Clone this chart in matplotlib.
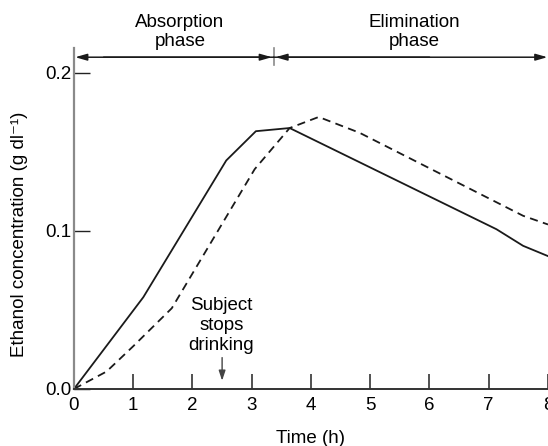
import matplotlib
matplotlib.use("Agg")
import matplotlib.pyplot as plt

plt.rcParams["font.family"] = ["Liberation Sans", "DejaVu Sans"]

# Data
t_solid = [0.0, 1.17, 2.57, 3.07, 3.64, 7.13, 7.58, 8.0]
c_solid = [0.0, 0.058, 0.1445, 0.163, 0.165, 0.101, 0.0905, 0.084]

t_dashed = [0.0, 0.55, 1.0, 1.65, 3.05, 3.64, 4.13, 4.82, 7.58, 8.0]
c_dashed = [0.0, 0.011, 0.027, 0.051, 0.139, 0.165, 0.172, 0.162, 0.1095, 0.104]

x_ticks = [0, 1, 2, 3, 4, 5, 6, 7, 8]
y_ticks = [0.0, 0.1, 0.2]
y_tick_labels = ["0.0", "0.1", "0.2"]

phase_split = 3.37
stop_time = 2.5

fs = 13.5

fig = plt.figure(figsize=(5.48, 4.46), dpi=100)
ax = fig.add_axes([0.135, 0.128, 0.865, 0.765])

ax.plot(t_solid, c_solid, color="#1a1a1a", lw=1.3, clip_on=False)
ax.plot(t_dashed, c_dashed, color="#1a1a1a", lw=1.3, dashes=(4.5, 3), clip_on=False)

ax.set_xlim(0, 8)
ax.set_ylim(0, 0.2158)
ax.spines["top"].set_visible(False)
ax.spines["right"].set_visible(False)
ax.spines["left"].set_color("#8a8a8a")
ax.spines["left"].set_linewidth(1.6)
ax.spines["bottom"].set_color("#333333")
ax.spines["bottom"].set_linewidth(1.4)

ax.set_xticks(x_ticks)
ax.set_yticks(y_ticks)
ax.set_yticklabels(y_tick_labels)
ax.tick_params(axis="x", direction="in", length=11, width=1.1, color="#222222",
               labelsize=fs, pad=6)
ax.tick_params(axis="y", direction="in", length=11.5, width=1.0, color="#222222",
               labelsize=fs, pad=2)

ax.set_xlabel("Time (h)", fontsize=fs)
ax.xaxis.set_label_coords(0.498, -0.12)
ax.set_ylabel("Ethanol concentration (g dl⁻¹)", fontsize=fs)
ax.yaxis.set_label_coords(-0.096, 0.452)

# phase arrows at the top
arrow_y = 0.2098
head = dict(arrowstyle="-|>,head_length=0.7,head_width=0.2", color="#1a1a1a",
            lw=1.1, shrinkA=0, shrinkB=0)
ax.annotate("", xy=(0.02, arrow_y), xytext=(phase_split, arrow_y),
            arrowprops=head, annotation_clip=False)
ax.annotate("", xy=(phase_split - 0.03, arrow_y), xytext=(0.5, arrow_y),
            arrowprops=head, annotation_clip=False)
ax.annotate("", xy=(7.99, arrow_y), xytext=(phase_split, arrow_y),
            arrowprops=head, annotation_clip=False)
ax.annotate("", xy=(phase_split + 0.03, arrow_y), xytext=(6.0, arrow_y),
            arrowprops=head, annotation_clip=False)
ax.plot([phase_split, phase_split], [0.2048, 0.2158], color="#8a8a8a", lw=1.2,
        clip_on=False)

ax.text(1.79, 0.2145, "Absorption\nphase", ha="center", va="bottom",
        fontsize=fs, linespacing=1.12)
ax.text(5.75, 0.2145, "Elimination\nphase", ha="center", va="bottom",
        fontsize=fs, linespacing=1.12)

# drinking stop annotation
ax.text(stop_time - 0.01, 0.0218, "Subject\nstops\ndrinking", ha="center",
        va="bottom", fontsize=fs, linespacing=1.24)
ax.annotate("", xy=(stop_time, 0.0052), xytext=(stop_time, 0.0198),
            arrowprops=dict(arrowstyle="-|>,head_length=0.6,head_width=0.2",
                            color="#444444", lw=1.0, shrinkA=0, shrinkB=0))

fig.savefig("out.png", dpi=100)
